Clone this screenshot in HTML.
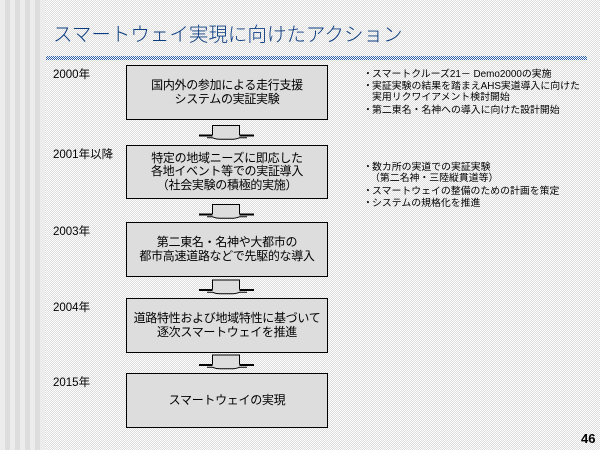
<!DOCTYPE html>
<html><head><meta charset="utf-8"><style>
*{margin:0;padding:0;box-sizing:border-box}
html,body{width:600px;height:450px;overflow:hidden}
body{position:relative;font-family:"Liberation Sans","Noto Sans CJK JP",sans-serif;color:#000;
background-color:#fff;background-image:repeating-conic-gradient(#dcdcdc 0 25%,#fff 0 50%);background-size:2px 2px}
.stripes{position:absolute;left:0;top:0;width:45px;height:450px;
background:repeating-linear-gradient(90deg,#ececec 0 5px,#dddddd 5px 10px)}
.title{position:absolute;left:53px;top:23px;font-size:19.5px;line-height:24px;color:#0a3c80;white-space:nowrap;font-weight:300}
.band{position:absolute;left:46px;top:56px;width:541px;height:4px;
background-image:repeating-conic-gradient(#2d5fa8 0 25%,#fff 0 50%);background-size:2px 2px}
.year{position:absolute;left:53px;font-size:11.5px;line-height:14px;white-space:nowrap}
.box{position:absolute;left:126px;width:202px;border:1px solid #000;background:#dddddd;
display:flex;flex-direction:column;justify-content:center;align-items:center;text-align:center;
font-size:12px;letter-spacing:-0.3px;white-space:nowrap}
.box div{line-height:13.5px}
.r{position:absolute;font-size:9.9px;line-height:12px;white-space:nowrap}
.pg{position:absolute;left:581px;top:432px;font-size:13px;line-height:14px;font-weight:bold}
svg{position:absolute;left:0;top:0}
</style></head><body>
<div class="stripes"></div>
<div class="title">スマートウェイ実現に向けたアクション</div>
<div class="band"></div>

<div class="year" style="top:68px">2000年</div>
<div class="year" style="top:148px">2001年以降</div>
<div class="year" style="top:225px">2003年</div>
<div class="year" style="top:301px">2004年</div>
<div class="year" style="top:376px">2015年</div>

<div class="box" style="top:65px;height:55px"><div>国内外の参加による走行支援</div><div>システムの実証実験</div></div>
<div class="box" style="top:145px;height:54px"><div>特定の地域ニーズに即応した</div><div>各地イベント等での実証導入</div><div>（社会実験の積極的実施）</div></div>
<div class="box" style="top:222px;height:55px"><div>第二東名・名神や大都市の</div><div>都市高速道路などで先駆的な導入</div></div>
<div class="box" style="top:298px;height:55px"><div>道路特性および地域特性に基づいて</div><div>逐次スマートウェイを推進</div></div>
<div class="box" style="top:373px;height:55px"><div>スマートウェイの実現</div></div>

<div class="r" style="left:363px;top:69px">・</div><div class="r" style="left:372px;top:69px">スマートクルーズ21－ Demo2000の実施</div>
<div class="r" style="left:363px;top:81px">・</div><div class="r" style="left:372px;top:81px">実証実験の結果を踏まえAHS実道導入に向けた</div>
<div class="r" style="left:372px;top:92px">実用リクワイアメント検討開始</div>
<div class="r" style="left:363px;top:105px">・</div><div class="r" style="left:372px;top:105px">第二東名・名神への導入に向けた設計開始</div>

<div class="r" style="left:363px;top:162px">・</div><div class="r" style="left:372px;top:162px">数カ所の実道での実証実験</div>
<div class="r" style="left:370px;top:173px">（第二名神・三陸縦貫道等）</div>
<div class="r" style="left:363px;top:186px">・</div><div class="r" style="left:372px;top:186px">スマートウェイの整備のための計画を策定</div>
<div class="r" style="left:363px;top:198px">・</div><div class="r" style="left:372px;top:198px">システムの規格化を推進</div>

<div class="pg">46</div>

<svg width="600" height="450" viewBox="0 0 600 450">
<defs>
<g id="arr">
<path d="M212.5,0.5 L239.5,0.5 L239.5,10.5 L240,12.5 Q236,14 231,14 L220,14 Q216,14 212.5,12.5 Z" fill="#dddddd" stroke="none"/>
<path d="M212.5,10 L212.5,0.5 L239.5,0.5 L239.5,10" fill="none" stroke="#000" stroke-width="1"/>
<path d="M199,10.5 L212.5,10.5 M239.5,10.5 L254,10.5" stroke="#000" stroke-width="2" fill="none"/>
<path d="M207,12.8 L212.5,12.8 Q216,14.3 220,14.3 L231,14.3 Q236,14.3 239.5,12.8 L247,12.8" stroke="#000" stroke-width="1" fill="none"/>
</g>
</defs>
<use href="#arr" x="0" y="125"/>
<use href="#arr" x="0" y="204"/>
<use href="#arr" x="0" y="279.5"/>
<use href="#arr" x="0" y="354.5"/>
</svg>
</body></html>
